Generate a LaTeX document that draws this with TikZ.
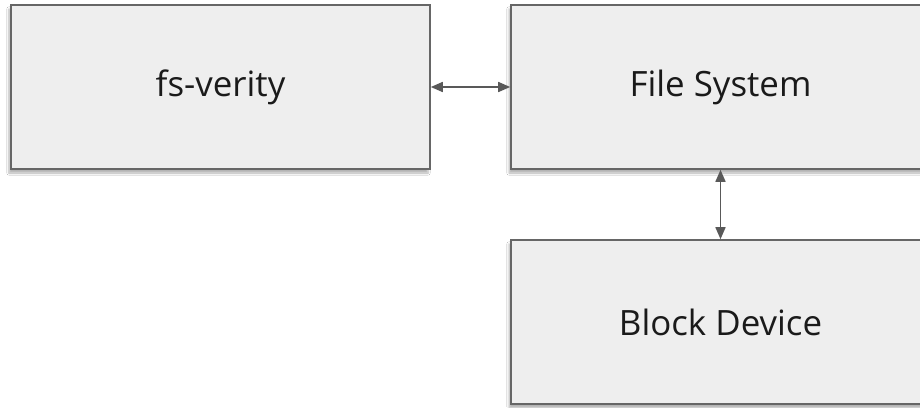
\documentclass[tikz,border=0pt]{standalone}
\usepackage{fontspec}
\setmainfont{Open Sans}
\usetikzlibrary{arrows.meta,shadows.blur}
\definecolor{boxfill}{HTML}{EEEEEE}
\definecolor{boxline}{HTML}{666666}
\definecolor{linkcol}{HTML}{595959}
\definecolor{labelcol}{HTML}{1A1A1A}
\begin{document}
\begin{tikzpicture}[x=1bp,y=-1bp,
  block/.style={draw=boxline,line width=1.6bp,fill=boxfill,
    minimum width=419bp,minimum height=164bp,inner sep=0pt,
    text=labelcol,font=\fontsize{35}{40}\selectfont,
    blur shadow={shadow xshift=-2bp,shadow yshift=-4bp,shadow blur steps=6,shadow opacity=30}},
  link/.style={draw=linkcol,line width=1.6bp,{Triangle[length=12bp,width=10bp]}-{Triangle[length=12bp,width=10bp]}}]
  \clip (0,0) rectangle (920,407);
  \fill[white] (0,0) rectangle (920,407);
  \node[block] (verity) at (220.5,87) {fs-verity};
  \node[block] (fs) at (720.5,87) {File System};
  \node[block] (blk) at (720.5,322) {Block Device};
  \draw[link] (verity.east) -- (fs.west);
  \draw[link] (fs.south) -- (blk.north);
\end{tikzpicture}
\end{document}
